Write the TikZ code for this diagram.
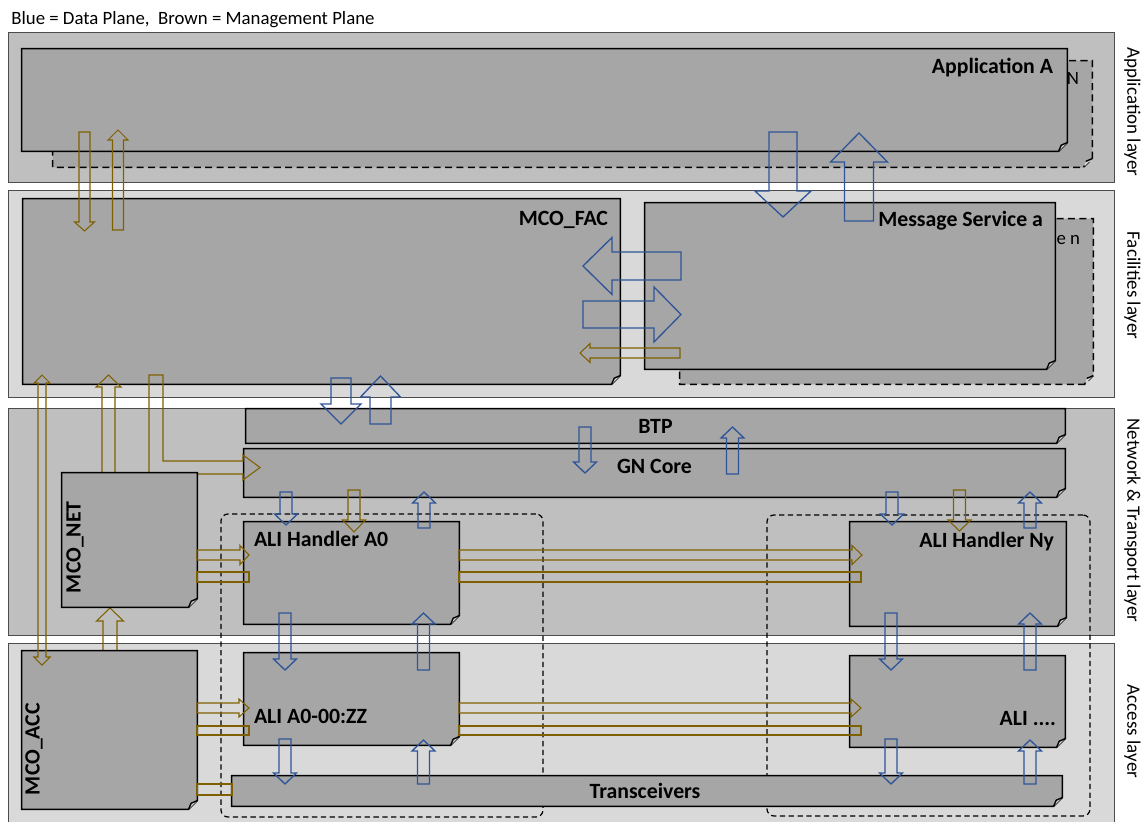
\documentclass[tikz,border=0pt]{standalone}
\usepackage{fontspec}
\setmainfont{Carlito}
\usetikzlibrary{positioning, fit, calc}

\definecolor{layerdark}{RGB}{191,191,191}
\definecolor{layerlight}{RGB}{217,217,217}
\definecolor{boxgray}{RGB}{166,166,166}
\definecolor{dataBlue}{RGB}{47,85,151}
\definecolor{mgmtBrown}{RGB}{127,96,0}

% block arrows: [style]{axis}{from}{to}{shaft half width}{head half width}{head length}
\newcommand{\varrow}[7][]{%
  \pgfmathsetmacro\hb{#4>#3 ? #4-#7 : #4+#7}
  \draw[#1] ({#2-#5},#3) -- ({#2-#5},\hb) -- ({#2-#6},\hb) -- (#2,#4)
    -- ({#2+#6},\hb) -- ({#2+#5},\hb) -- ({#2+#5},#3) -- cycle;
}
\newcommand{\harrow}[7][]{%
  \pgfmathsetmacro\hb{#4>#3 ? #4-#7 : #4+#7}
  \draw[#1] (#3,{#2-#5}) -- (\hb,{#2-#5}) -- (\hb,{#2-#6}) -- (#4,#2)
    -- (\hb,{#2+#6}) -- (\hb,{#2+#5}) -- (#3,{#2+#5}) -- cycle;
}
% sheet with a folded corner: [style]{name}{corner}{corner}
\newcommand{\sheet}[4][]{%
  \node[inner sep=0pt, fit={#3#4}] (#2) {};
  \filldraw[sheetline, #1] (#2.north west) -- (#2.north east)
    -- ([yshift=5pt]#2.south east) -- ([xshift=-5pt]#2.south east)
    -- (#2.south west) -- cycle;
  \filldraw[sheetline, fill=layerlight, #1] ([yshift=5pt]#2.south east)
    -- ([xshift=-3.5pt, yshift=3.5pt]#2.south east) -- ([xshift=-5pt]#2.south east);
}

\tikzset{
    layer/.style={draw=black!70, line width=0.5pt, inner sep=0pt},
    layer label/.style={rotate=-90, anchor=base, inner sep=0pt, font=\fontsize{10.8}{12}\selectfont},
    sheetline/.style={draw=black, line width=0.8pt, fill=boxgray},
    ghost/.style={dashed, dash pattern=on 4pt off 2.5pt},
    group/.style={draw=black, dash pattern=on 3pt off 2pt, line width=0.7pt, rounded corners=4pt, inner sep=0pt},
    title/.style={inner sep=0pt, font=\bfseries\fontsize{12.4}{14}\selectfont},
    plain/.style={inner sep=0pt, font=\fontsize{10.7}{12}\selectfont},
    data/.style={draw=dataBlue, line width=0.75pt},
    mgmt/.style={draw=mgmtBrown, line width=0.6pt}
}

\begin{document}
\begin{tikzpicture}[x=0.02cm, y=-0.02cm]
    \useasboundingbox (0,0) rectangle (1148,821);

    \node[plain, anchor=base west] (legend) at (11,25) {Blue = Data Plane,\ \ Brown = Management Plane};

    % Layers
    \node[layer, fill=layerdark, fit={(8,32)(1114,182)}] (appL) {};
    \node[layer, fill=layerlight, fit={(8,190)(1114,397)}] (facL) {};
    \node[layer, fill=layerdark, fit={(8,408)(1114,635)}] (netL) {};
    \node[layer, fill=layerlight, fit={(8,643)(1114,826)}] (accL) {};
    \node[layer label] (appL-l) at ([shift={(13,5)}]appL.east) {Application layer};
    \node[layer label] (facL-l) at ([shift={(13,-8)}]facL.east) {Facilities layer};
    \node[layer label] (netL-l) at ([shift={(13,-1)}]netL.east) {Network \& Transport layer};
    \node[layer label] (accL-l) at ([shift={(13,-3)}]accL.east) {Access layer};

    % ALI groups
    \node[group, fit={(221,514)(543,817)}] (grpA0) {};
    \node[group, fit={(767,515)(1090,816)}] (grpNy) {};

    % Application layer
    \sheet[ghost]{appN}{(53,61)}{(1092,167)}
    \node[plain, anchor=base east] (appN-l) at ([shift={(-13,24)}]appN.north east) {N};
    \sheet{appA}{(22,49)}{(1067,151)}
    \node[title, anchor=base east] (appA-l) at ([shift={(-14,25)}]appA.north east) {Application A};

    % Facilities layer
    \sheet{mcoFAC}{(23,199)}{(620,384)}
    \node[title, anchor=base east] (mcoFAC-l) at ([shift={(-12,27)}]mcoFAC.north east) {MCO\_FAC};
    \sheet[ghost]{msgN}{(680,219)}{(1093,384)}
    \node[plain, anchor=base east] (msgN-l) at ([shift={(-13,26)}]msgN.north east) {e n};
    \sheet{msgA}{(645,203)}{(1055,369)}
    \node[title, anchor=base east] (msgA-l) at ([shift={(-12,24)}]msgA.north east) {Message Service a};

    % Network & Transport layer
    \sheet{btp}{(246,409)}{(1065,443)}
    \node[title, anchor=base] (btp-l) at ([shift={(0,7)}]btp.center) {BTP};
    \sheet{gn}{(244,449)}{(1065,497)}
    \node[title, anchor=base] (gn-l) at (gn.center) {GN Core};

    \varrow[mgmt]{108.5}{473}{375}{6.5}{12.5}{12}
    \draw[mgmt] (149,375) -- (163,375) -- (163,461) -- (243,461) -- (243,455) -- (260,467.5)
        -- (243,480) -- (243,474) -- (149,474) -- cycle;
    \varrow[mgmt]{110}{651}{608}{7}{13.5}{13}

    \sheet{mcoNET}{(62,473)}{(197,607)}
    \node[title, rotate=90, anchor=base west] (mcoNET-l) at ([shift={(19,-14)}]mcoNET.south west) {MCO\_NET};
    \sheet{aliHA0}{(244,522)}{(459,624)}
    \node[title, anchor=base west] (aliHA0-l) at ([shift={(10,25)}]aliHA0.north west) {ALI Handler A0};
    \sheet{aliHNy}{(850,522)}{(1066,626)}
    \node[title, anchor=base east] (aliHNy-l) at ([shift={(-12,26)}]aliHNy.north east) {ALI Handler Ny};

    % Access layer
    \sheet{mcoACC}{(22,651)}{(197,809)}
    \node[title, rotate=90, anchor=base west] (mcoACC-l) at ([shift={(18,-14)}]mcoACC.south west) {MCO\_ACC};
    \sheet{aliA0}{(244,653)}{(459,745)}
    \node[title, anchor=base west] (aliA0-l) at ([shift={(10,24)}]aliA0.west) {ALI A0-00:ZZ};
    \sheet{aliX}{(850,656)}{(1065,747)}
    \node[title, anchor=base east] (aliX-l) at ([shift={(-9,-22)}]aliX.south east) {ALI ....};
    \sheet{trx}{(232,776)}{(1062,806)}
    \node[title, anchor=base] (trx-l) at ([shift={(-2,7)}]trx.center) {Transceivers};

    % Data plane
    \varrow[data]{783}{132}{217}{14}{28}{26}
    \varrow[data]{859}{221}{133}{14.5}{28.5}{29}
    \harrow[data]{266}{681}{583}{14}{28.5}{29}
    \harrow[data]{314.5}{583}{681}{13.5}{27.5}{27}
    \varrow[data]{341}{378}{424}{10}{20}{20}
    \varrow[data]{380.5}{424}{376}{10.5}{20}{21}
    \foreach \x/\a/\b in {585/427/473, 732.5/474/427, 286/492/525, 424/528/492,
        892/492/525, 1030/528/492, 285/613/670, 423.5/670/613, 891/613/670,
        1030/670/613, 285/739/784, 423.5/784/740, 891/739/784, 1030/784/740}
        {\varrow[data]{\x}{\a}{\b}{6}{11.5}{11}}

    % Management plane
    \harrow[mgmt]{353}{680}{580}{5}{9.5}{10}
    \varrow[mgmt]{84.5}{132}{231}{5.5}{10}{9}
    \varrow[mgmt]{118}{230}{130}{5.5}{10}{10}
    \draw[mgmt] (38,383) -- (34,383) -- (42,375) -- (50,383) -- (46,383) -- (46,657)
        -- (50,657) -- (42,665) -- (34,657) -- (38,657) -- cycle;
    \varrow[mgmt]{354}{490}{532}{6}{11.5}{12}
    \varrow[mgmt]{959.5}{490}{531}{6}{11.5}{11}
    \harrow[mgmt]{555}{197}{249}{5}{9.5}{9}
    \harrow[mgmt]{555}{459}{862}{5}{9.5}{10}
    \draw[mgmt] (197,572) rectangle (249,582);
    \draw[mgmt] (459,572) rectangle (861,582);
    \harrow[mgmt]{708}{197}{249}{5}{9}{10}
    \harrow[mgmt]{708}{459}{861}{5}{9}{10}
    \draw[mgmt] (197,726) rectangle (249,735);
    \draw[mgmt] (459,726) rectangle (861,735);
    \draw[mgmt] (197,784) rectangle (232,795);
\end{tikzpicture}
\end{document}
